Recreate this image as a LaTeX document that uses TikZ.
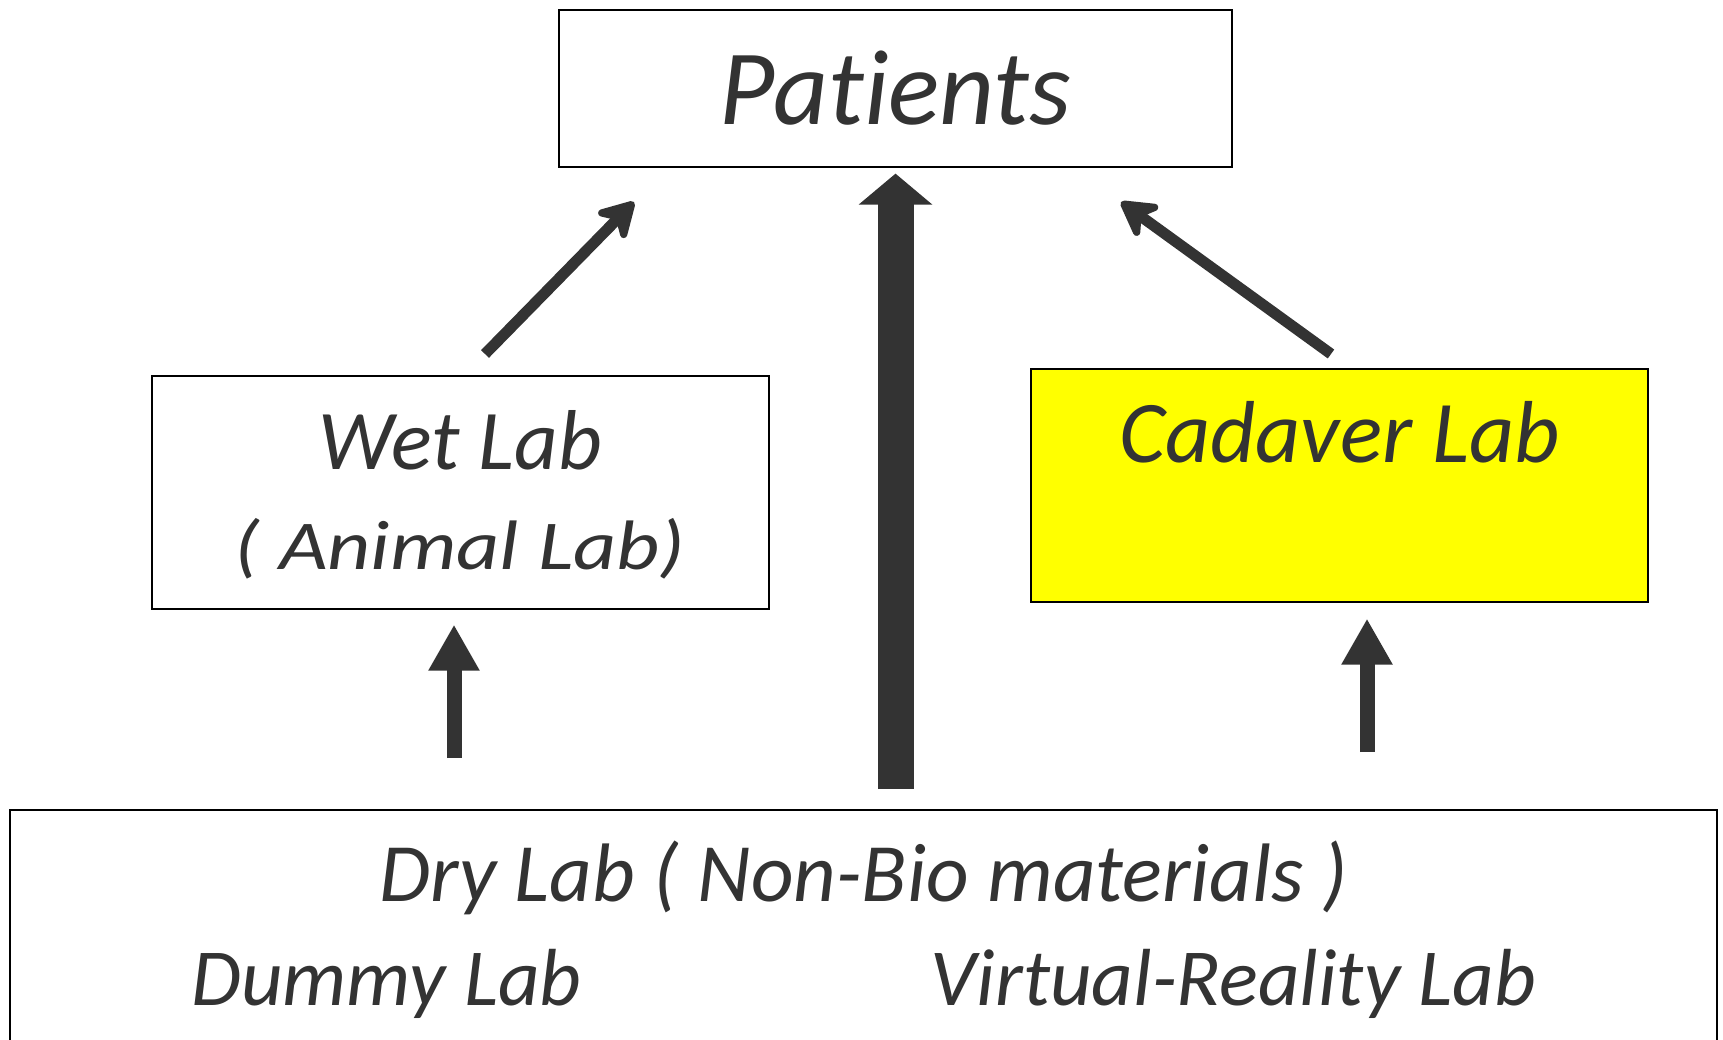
\documentclass[tikz,border=0pt]{standalone}
\usepackage{fontspec}
\setmainfont{Carlito}[Ligatures=NoCommon]
\usetikzlibrary{arrows.meta, positioning, calc}
\definecolor{ink}{HTML}{333333}
\definecolor{cadfill}{HTML}{FFFF00}

\begin{document}
\begin{tikzpicture}[
  x=1pt, y=-1pt,
  box/.style={rectangle, draw=black, line width=1.6pt, fill=white,
              inner sep=0pt, text=ink, anchor=north},
  lbl/.style={text=ink, inner sep=0pt, anchor=base},
  fsz/.style={font=\fontsize{#1}{#1}\selectfont\itshape},
  bigarr/.style={draw=ink, line width=36pt,
                 -{Triangle[length=31pt, width=72pt]}},
  smallarr/.style={draw=ink, line width=15pt,
                   -{Triangle[length=46pt, width=48pt]}},
  diag/.style={draw=ink, line width=11pt,
               -{Stealth[length=44pt, width=50pt, inset=15pt, round]}},
]
\useasboundingbox (0,0) rectangle (1723,1040);
\node (pat) [box, fsz=107, minimum width=673pt, text height=115pt,
             text depth=42pt] at (895.5,9) {Patients};
\node (wet) [box, fsz=85, minimum width=617pt, text height=94pt,
             text depth=139pt] at (460.5,375) {Wet Lab};
\node (wetsub) [lbl, fsz=70] at (460,569)
  {\scalebox{1.2}[1]{( Animal Lab)}};
\node (cad) [box, fill=cadfill, fsz=88, minimum width=617pt,
             text height=94pt, text depth=139pt] at (1339.5,368) {Cadaver Lab};
\node (dry) [box, fsz=83, minimum width=1707pt, text height=92pt,
             text depth=180pt] at (863.5,809) {Dry Lab ( Non-Bio materials )};
\node (dummy) [lbl, fsz=81] at (386.5,1005) {Dummy Lab};
\node (vr) [lbl, fsz=81] at (1233.5,1005) {Virtual-Reality Lab};
% edges
\draw [bigarr, shorten <=20pt, shorten >=6pt] (pat.south |- dry.north) -- (pat.south);
\coordinate (wetin) at ($(wet.south)+(-6.5,0)$);
\coordinate (cadin) at ($(cad.south)+(27.5,0)$);
\draw [smallarr, shorten <=51pt, shorten >=15pt] (wetin |- dry.north) -- (wetin);
\draw [smallarr, shorten <=57pt, shorten >=16pt] (cadin |- dry.north) -- (cadin);
% diagonal arrows up to the patients
\coordinate (wetout) at ($(wet.north)+(24.5,-21)$);
\coordinate (cadout) at ($(cad.north)+(-8.5,-14)$);
\coordinate (patl) at (634,202);
\coordinate (patr) at (1121,202);
\draw [diag] (wetout) -- (patl);
\draw [diag] (cadout) -- (patr);
\end{tikzpicture}
\end{document}
